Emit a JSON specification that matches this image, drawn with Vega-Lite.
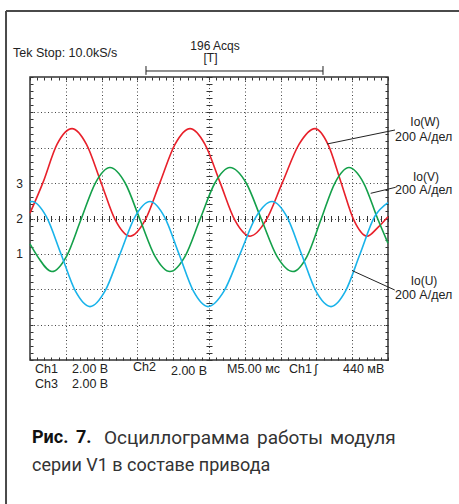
{
  "$schema": "https://vega.github.io/schema/vega-lite/v6.json",
  "width": 358,
  "height": 283,
  "autosize": {"type": "none"},
  "padding": {"left": 30, "top": 77, "right": 71, "bottom": 144},
  "background": "white",
  "config": {"view": {"stroke": "#333", "strokeWidth": 1.5}, "font": "Liberation Sans"},
  "resolve": {"axis": {"x": "independent", "y": "independent"}},
  "datasets": {
    "series": [
      {"ch":"W","t":0,"v":0.15},{"ch":"W","t":1.82,"v":1.02},{"ch":"W","t":3.77,"v":2.095},{"ch":"W","t":5.87,"v":2.54},{"ch":"W","t":7.89,"v":2.095},{"ch":"W","t":9.92,"v":1.02},{"ch":"W","t":11.94,"v":-0.055},{"ch":"W","t":13.97,"v":-0.5},{"ch":"W","t":16.06,"v":-0.055},{"ch":"W","t":18.16,"v":1.02},{"ch":"W","t":20.25,"v":2.095},{"ch":"W","t":22.35,"v":2.54},{"ch":"W","t":24.44,"v":2.095},{"ch":"W","t":26.54,"v":1.02},{"ch":"W","t":28.63,"v":-0.055},{"ch":"W","t":30.73,"v":-0.5},{"ch":"W","t":32.96,"v":-0.055},{"ch":"W","t":35.26,"v":1.02},{"ch":"W","t":37.57,"v":2.095},{"ch":"W","t":39.8,"v":2.54},{"ch":"W","t":41.62,"v":2.095},{"ch":"W","t":43.44,"v":1.02},{"ch":"W","t":45.25,"v":-0.055},{"ch":"W","t":47.07,"v":-0.5},{"ch":"W","t":48.6,"v":-0.25},{"ch":"W","t":50,"v":0.05},
      {"ch":"V","t":0,"v":-0.72},{"ch":"V","t":1.05,"v":-1.07},{"ch":"V","t":3.07,"v":-1.5},{"ch":"V","t":5.1,"v":-1.07},{"ch":"V","t":7.12,"v":-0.03},{"ch":"V","t":9.15,"v":1.01},{"ch":"V","t":11.17,"v":1.44},{"ch":"V","t":13.27,"v":1.01},{"ch":"V","t":15.36,"v":-0.03},{"ch":"V","t":17.46,"v":-1.07},{"ch":"V","t":19.55,"v":-1.5},{"ch":"V","t":21.65,"v":-1.07},{"ch":"V","t":23.74,"v":-0.03},{"ch":"V","t":25.84,"v":1.01},{"ch":"V","t":27.93,"v":1.44},{"ch":"V","t":30.17,"v":1.01},{"ch":"V","t":32.33,"v":-0.03},{"ch":"V","t":34.5,"v":-1.07},{"ch":"V","t":36.73,"v":-1.5},{"ch":"V","t":38.69,"v":-1.07},{"ch":"V","t":40.64,"v":-0.03},{"ch":"V","t":42.6,"v":1.01},{"ch":"V","t":44.55,"v":1.44},{"ch":"V","t":46.58,"v":1.01},{"ch":"V","t":48.6,"v":-0.03},{"ch":"V","t":50,"v":-0.7},
      {"ch":"U","t":0,"v":0.47},{"ch":"U","t":0.28,"v":0.48},{"ch":"U","t":2.3,"v":0.045},{"ch":"U","t":4.33,"v":-1.005},{"ch":"U","t":6.35,"v":-2.055},{"ch":"U","t":8.38,"v":-2.49},{"ch":"U","t":10.47,"v":-2.055},{"ch":"U","t":12.57,"v":-1.005},{"ch":"U","t":14.66,"v":0.045},{"ch":"U","t":16.76,"v":0.48},{"ch":"U","t":18.78,"v":0.045},{"ch":"U","t":20.81,"v":-1.005},{"ch":"U","t":22.83,"v":-2.055},{"ch":"U","t":24.86,"v":-2.49},{"ch":"U","t":27.09,"v":-2.055},{"ch":"U","t":29.33,"v":-1.005},{"ch":"U","t":31.56,"v":0.045},{"ch":"U","t":33.8,"v":0.48},{"ch":"U","t":35.89,"v":0.045},{"ch":"U","t":37.92,"v":-1.005},{"ch":"U","t":39.94,"v":-2.055},{"ch":"U","t":42.04,"v":-2.49},{"ch":"U","t":44.06,"v":-2.055},{"ch":"U","t":46.09,"v":-1.005},{"ch":"U","t":48.11,"v":0.045},{"ch":"U","t":50,"v":0.45}
    ],
    "leftTexts": [
      {"x":-2.37,"y":4.68,"text":"Tek Stop: 10.0kS/s"},
      {"x":0.7,"y":-4.254,"text":"Ch1"},
      {"x":5.87,"y":-4.254,"text":"2.00 В"},
      {"x":14.39,"y":-4.2,"text":"Ch2"},
      {"x":19.69,"y":-4.31,"text":"2.00 В"},
      {"x":27.51,"y":-4.254,"text":"M5.00 мс"},
      {"x":36.17,"y":-4.254,"text":"Ch1"},
      {"x":39.7,"y":-4.254,"text":"∫"},
      {"x":43.72,"y":-4.254,"text":"440 мВ"},
      {"x":0.7,"y":-4.678,"text":"Ch3"},
      {"x":5.87,"y":-4.678,"text":"2.00 В"},
      {"x":50.98,"y":2.304,"text":"200 А/дел"},
      {"x":50.98,"y":0.806,"text":"200 А/дел"},
      {"x":50.98,"y":-2.163,"text":"200 А/дел"}
    ],
    "centerTexts": [
      {"x":25.84,"y":4.89,"text":"196 Acqs"},
      {"x":25.21,"y":4.523,"text":"[T]"},
      {"x":-1.47,"y":0.985,"text":"3"},
      {"x":-1.47,"y":0,"text":"2"},
      {"x":-1.47,"y":-1,"text":"1"},
      {"x":55.17,"y":2.728,"text":"Io(W)"},
      {"x":55.31,"y":1.173,"text":"Io(V)"},
      {"x":55.03,"y":-1.767,"text":"Io(U)"}
    ],
    "frame": [
      {"x":-3.35,"y":5.866,"x2":59.92,"y2":5.866},
      {"x":-3.35,"y":5.866,"x2":-3.35,"y2":-8.07}
    ],
    "segments": [
      {"x":16.2,"y":4.17,"x2":40.92,"y2":4.17},
      {"x":16.2,"y":4.31,"x2":16.2,"y2":4.06},
      {"x":40.92,"y":4.31,"x2":40.92,"y2":4.06},
      {"x":41.48,"y":2.106,"x2":50.98,"y2":2.502},
      {"x":47.58,"y":0.712,"x2":51.07,"y2":0.882},
      {"x":45.02,"y":-1.476,"x2":50.94,"y2":-2.021}
    ],
    "captionBold": [
      {"x":0.28,"y":-6.205,"text":"Рис."},
      {"x":6.42,"y":-6.205,"text":"7."}
    ],
    "captionLine1": [
      {"x":10.33,"y":-6.205,"text":"Осциллограмма"},
      {"x":31.7,"y":-6.205,"text":"работы"},
      {"x":41.9,"y":-6.205,"text":"модуля"}
    ],
    "captionLine2": [
      {"x":0.28,"y":-6.996,"text":"серии V1 в составе привода"}
    ]
  },
  "layer": [
    {
      "data": {"name": "series"},
      "mark": {"type": "line", "interpolate": "monotone", "strokeWidth": 1.6},
      "encoding": {
        "x": {"field": "t", "type": "quantitative", "scale": {"domain": [0, 50], "nice": false, "zero": false},
          "axis": {"orient": "bottom", "values": [5,10,15,20,25,30,35,40,45], "grid": true, "gridColor": "#444", "gridDash": [1, 2.5], "gridWidth": 1, "ticks": false, "labels": false, "domain": false, "title": null}},
        "y": {"field": "v", "type": "quantitative", "scale": {"domain": [-4, 4], "nice": false, "zero": false},
          "axis": {"orient": "left", "values": [-3,-2,-1,0,1,2,3], "grid": true, "gridColor": "#444", "gridDash": [1, 2.5], "gridWidth": 1, "ticks": false, "labels": false, "domain": false, "title": null}},
        "color": {"field": "ch", "type": "nominal", "scale": {"domain": ["W", "V", "U"], "range": ["#e8202a", "#14a04a", "#19b3ea"]}, "legend": null},
        "detail": {"field": "ch"}
      }
    },
    {
      "mark": {"type": "rule", "color": "#333", "strokeWidth": 1},
      "encoding": {"y": {"datum": 0, "type": "quantitative", "axis": null}}
    },
    {
      "mark": {"type": "rule", "color": "#333", "strokeWidth": 1},
      "encoding": {"x": {"datum": 25, "type": "quantitative", "axis": null}}
    },
    {
      "data": {"name": "leftTexts"},
      "mark": {"type": "text", "align": "left", "baseline": "middle", "fontSize": 12.5, "color": "#222"},
      "encoding": {
        "x": {"field": "x", "type": "quantitative",
          "axis": {"orient": "bottom", "offset": -3, "tickSize": 3, "tickColor": "#333", "values": [0,1,2,3,4,5,6,7,8,9,10,11,12,13,14,15,16,17,18,19,20,21,22,23,24,25,26,27,28,29,30,31,32,33,34,35,36,37,38,39,40,41,42,43,44,45,46,47,48,49,50], "labels": false, "domain": false, "grid": false, "title": null}},
        "y": {"field": "y", "type": "quantitative",
          "axis": {"orient": "left", "offset": -3, "tickSize": 3, "tickColor": "#333", "values": [-4,-3.8,-3.6,-3.4,-3.2,-3,-2.8,-2.6,-2.4,-2.2,-2,-1.8,-1.6,-1.4,-1.2,-1,-0.8,-0.6,-0.4,-0.2,0,0.2,0.4,0.6,0.8,1,1.2,1.4,1.6,1.8,2,2.2,2.4,2.6,2.8,3,3.2,3.4,3.6,3.8,4], "labels": false, "domain": false, "grid": false, "title": null}},
        "text": {"field": "text"}
      }
    },
    {
      "data": {"name": "centerTexts"},
      "mark": {"type": "text", "align": "center", "baseline": "middle", "fontSize": 12, "color": "#222"},
      "encoding": {
        "x": {"field": "x", "type": "quantitative",
          "axis": {"orient": "top", "offset": -3, "tickSize": 3, "tickColor": "#333", "values": [0,1,2,3,4,5,6,7,8,9,10,11,12,13,14,15,16,17,18,19,20,21,22,23,24,25,26,27,28,29,30,31,32,33,34,35,36,37,38,39,40,41,42,43,44,45,46,47,48,49,50], "labels": false, "domain": false, "grid": false, "title": null}},
        "y": {"field": "y", "type": "quantitative",
          "axis": {"orient": "right", "offset": -3, "tickSize": 3, "tickColor": "#333", "values": [-4,-3.8,-3.6,-3.4,-3.2,-3,-2.8,-2.6,-2.4,-2.2,-2,-1.8,-1.6,-1.4,-1.2,-1,-0.8,-0.6,-0.4,-0.2,0,0.2,0.4,0.6,0.8,1,1.2,1.4,1.6,1.8,2,2.2,2.4,2.6,2.8,3,3.2,3.4,3.6,3.8,4], "labels": false, "domain": false, "grid": false, "title": null}},
        "text": {"field": "text"}
      }
    },
    {
      "data": {"name": "segments"},
      "mark": {"type": "rule", "color": "#222", "strokeWidth": 1},
      "encoding": {
        "x": {"field": "x", "type": "quantitative",
          "axis": {"orient": "bottom", "offset": -144.5, "tickSize": 6, "tickColor": "#333", "values": [0,1,2,3,4,5,6,7,8,9,10,11,12,13,14,15,16,17,18,19,20,21,22,23,24,25,26,27,28,29,30,31,32,33,34,35,36,37,38,39,40,41,42,43,44,45,46,47,48,49,50], "labels": false, "domain": false, "grid": false, "title": null}},
        "y": {"field": "y", "type": "quantitative",
          "axis": {"orient": "left", "offset": -182, "tickSize": 6, "tickColor": "#333", "values": [-4,-3.8,-3.6,-3.4,-3.2,-3,-2.8,-2.6,-2.4,-2.2,-2,-1.8,-1.6,-1.4,-1.2,-1,-0.8,-0.6,-0.4,-0.2,0,0.2,0.4,0.6,0.8,1,1.2,1.4,1.6,1.8,2,2.2,2.4,2.6,2.8,3,3.2,3.4,3.6,3.8,4], "labels": false, "domain": false, "grid": false, "title": null}},
        "x2": {"field": "x2"},
        "y2": {"field": "y2"}
      }
    },
    {
      "data": {"name": "frame"},
      "mark": {"type": "rule", "color": "#4a4a4a", "strokeWidth": 2},
      "encoding": {
        "x": {"field": "x", "type": "quantitative", "axis": null},
        "y": {"field": "y", "type": "quantitative", "axis": null},
        "x2": {"field": "x2"},
        "y2": {"field": "y2"}
      }
    },
    {
      "data": {"name": "captionBold"},
      "mark": {"type": "text", "align": "left", "baseline": "middle", "fontSize": 18, "font": "Roboto", "fontWeight": "bold", "color": "#111"},
      "encoding": {
        "x": {"field": "x", "type": "quantitative", "axis": null},
        "y": {"field": "y", "type": "quantitative", "axis": null},
        "text": {"field": "text"}
      }
    },
    {
      "data": {"name": "captionLine1"},
      "mark": {"type": "text", "align": "left", "baseline": "middle", "fontSize": 19, "font": "Roboto", "color": "#333"},
      "encoding": {
        "x": {"field": "x", "type": "quantitative", "axis": null},
        "y": {"field": "y", "type": "quantitative", "axis": null},
        "text": {"field": "text"}
      }
    },
    {
      "data": {"name": "captionLine2"},
      "mark": {"type": "text", "align": "left", "baseline": "middle", "fontSize": 18, "font": "Roboto", "color": "#333"},
      "encoding": {
        "x": {"field": "x", "type": "quantitative", "axis": null},
        "y": {"field": "y", "type": "quantitative", "axis": null},
        "text": {"field": "text"}
      }
    }
  ]
}
